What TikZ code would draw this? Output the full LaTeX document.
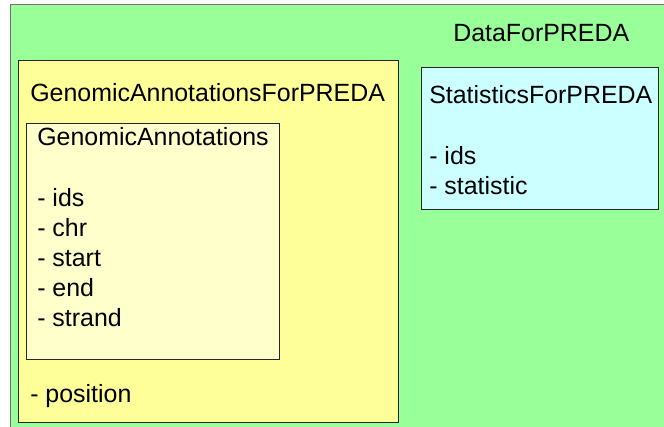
\documentclass[tikz,border=0pt]{standalone}
\usepackage{fontspec}
\setmainfont{Liberation Sans}
\definecolor{datagreen}{HTML}{99FF99}
\definecolor{annoyellow}{HTML}{FFFF99}
\definecolor{genpale}{HTML}{FFFFCC}
\definecolor{statcyan}{HTML}{CCFFFF}
\tikzset{
  lbl/.style={anchor=base west, inner sep=0pt, font=\fontsize{18.7pt}{22pt}\selectfont},
  classbox/.style={draw=black!85, line width=0.75pt}
}
\begin{document}
\begin{tikzpicture}[x=0.75pt,y=-0.75pt]
\useasboundingbox (0,0) rectangle (664,427);
\clip (0,0) rectangle (664,427);
% outer container
\draw [fill=datagreen, draw=black!55, line width=0.9pt] (10.5,4.5) rectangle (700,470);
\node [lbl] (dataT) at (453,42) {DataForPREDA};
% annotations
\draw [classbox, fill=annoyellow] (18.5,60.5) rectangle (398,423);
\node [lbl] (annoT) at (30,102) {GenomicAnnotationsForPREDA};
\draw [classbox, fill=genpale] (26.5,123.5) rectangle (279,360);
\node [lbl] (genT) at (37,146) {GenomicAnnotations};
\node [lbl] (genA) at (37,207) {- ids};
\node [lbl] (genB) at (37,237) {- chr};
\node [lbl] (genC) at (37,267) {- start};
\node [lbl] (genD) at (37,297) {- end};
\node [lbl] (genE) at (37,327) {- strand};
\node [lbl] (annoA) at (30,403) {- position};
% statistics
\draw [classbox, fill=statcyan] (421.5,67.5) rectangle (658,210);
\node [lbl] (statT) at (429,104) {StatisticsForPREDA};
\node [lbl] (statA) at (429,165) {- ids};
\node [lbl] (statB) at (429,195) {- statistic};
\end{tikzpicture}
\end{document}
